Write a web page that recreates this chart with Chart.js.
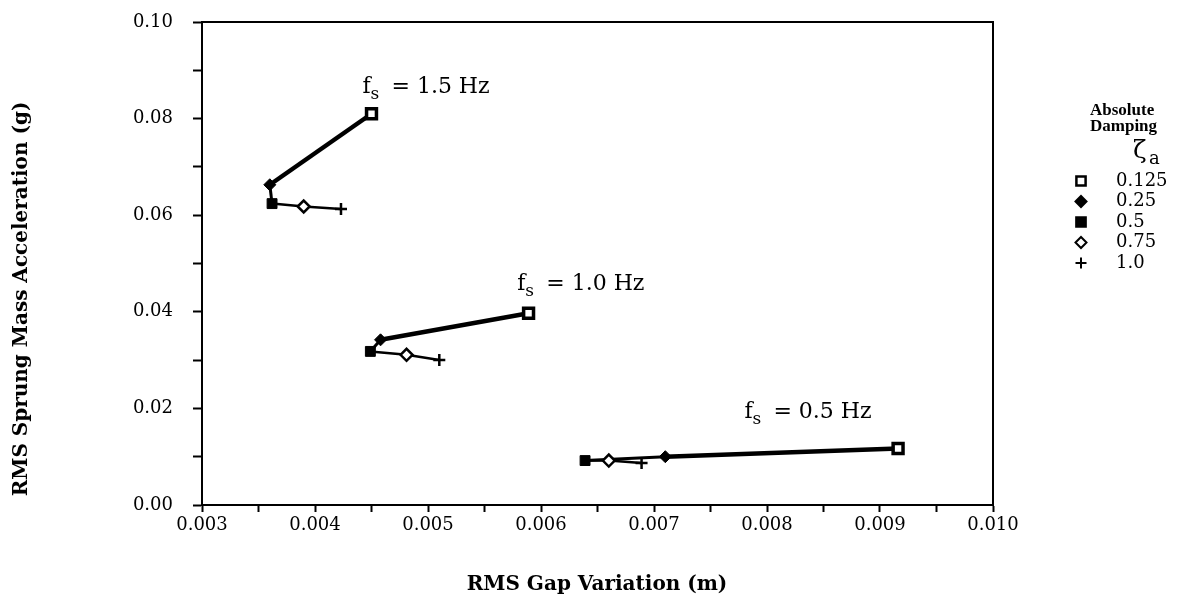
<!DOCTYPE html>
<html><head><meta charset="utf-8">
<script src="https://cdn.jsdelivr.net/npm/chart.js@4/dist/chart.umd.min.js"></script>
<style>html,body{margin:0;padding:0;background:#fff;}#wrap{width:1177px;height:604px;}</style>
</head><body><div id="wrap"><canvas id="c" width="1177" height="604"></canvas></div>
<script>
// ---- data ----
const dampingLabels = ['0.125', '0.25', '0.5', '0.75', '1.0'];
const frequencyLabels = ['1.5', '1.0', '0.5'];
// values ordered by damping (0.125, 0.25, 0.5, 0.75, 1.0)
const gap15Hz = [0.00450, 0.00360, 0.00362, 0.00390, 0.00423];
const acc15Hz = [0.0810, 0.0663, 0.0624, 0.0618, 0.0613];
const gap10Hz = [0.00589, 0.00458, 0.00449, 0.00481, 0.00510];
const acc10Hz = [0.0397, 0.0342, 0.0318, 0.0311, 0.0300];
const gap05Hz = [0.00916, 0.00710, 0.00639, 0.00660, 0.00689];
const acc05Hz = [0.0117, 0.0100, 0.0092, 0.0092, 0.0087];
const xTickLabels = ['0.003', '0.004', '0.005', '0.006', '0.007', '0.008', '0.009', '0.010'];
const yTickLabels = ['0.00', '0.02', '0.04', '0.06', '0.08', '0.10'];
const xAxisTitle = 'RMS Gap Variation (m)';
const yAxisTitle = 'RMS Sprung Mass Acceleration (g)';
const legendTitle = ['Absolute', 'Damping'];
// annotation anchors (data coordinates) for the f_s labels
const annotationX = [0.00442, 0.00579, 0.00780];
const annotationY = [0.0870, 0.0462, 0.0197];

// ---- styles ----
const gapSeries = [gap15Hz, gap10Hz, gap05Hz];
const accSeries = [acc15Hz, acc10Hz, acc05Hz];
const markerStyles = [
  {pointStyle: 'rect', radius: 7, bg: '#fff', bw: 3.5},
  {pointStyle: 'rectRot', radius: 6, bg: '#000', bw: 1},
  {pointStyle: 'rect', radius: 7, bg: '#000', bw: 1},
  {pointStyle: 'rectRot', radius: 6, bg: '#fff', bw: 2.5},
  {pointStyle: 'cross', radius: 6, bg: '#000', bw: 2.5}
];
const segmentWidths = [4.5, 3, 2.5, 2.5];
const serif = 'DejaVu Serif';

const lineDatasets = frequencyLabels.map((f, k) => ({
  label: 'fs ' + f,
  data: gapSeries[k].map((x, i) => ({x: x, y: accSeries[k][i]})),
  showLine: true,
  borderColor: '#000',
  borderWidth: 2.5,
  pointRadius: 0,
  segment: {borderWidth: c => segmentWidths[c.p0DataIndex]},
  order: 2
}));
const markerDatasets = dampingLabels.map((d, j) => ({
  label: d,
  data: gapSeries.map((g, k) => ({x: g[j], y: accSeries[k][j]})),
  showLine: false,
  pointStyle: markerStyles[j].pointStyle,
  pointRadius: markerStyles[j].radius,
  pointBackgroundColor: markerStyles[j].bg,
  pointBorderColor: '#000',
  pointBorderWidth: markerStyles[j].bw,
  order: 1
}));

const framePlugin = {
  id: 'frame',
  beforeDatasetsDraw(chart) {
    const a = chart.chartArea, ctx = chart.ctx;
    ctx.save();
    ctx.strokeStyle = '#000'; ctx.lineWidth = 2;
    ctx.beginPath();
    ctx.moveTo(a.left, a.top); ctx.lineTo(a.right, a.top); ctx.lineTo(a.right, a.bottom);
    ctx.stroke();
    ctx.restore();
  }
};

const textPlugin = {
  id: 'texts',
  afterDraw(chart) {
    const ctx = chart.ctx, xs = chart.scales.x, ys = chart.scales.y;
    ctx.save();
    ctx.fillStyle = '#000';
    // axis titles
    ctx.font = 'bold 20px ' + serif;
    ctx.textAlign = 'center'; ctx.textBaseline = 'middle';
    ctx.fillText(xAxisTitle, 597, 585);
    ctx.save();
    ctx.translate(22, 299); ctx.rotate(-Math.PI / 2);
    ctx.fillText(yAxisTitle, 0, 0);
    ctx.restore();
    // f_s annotations
    frequencyLabels.forEach((f, k) => {
      const px = xs.getPixelForValue(annotationX[k]);
      const py = ys.getPixelForValue(annotationY[k]);
      ctx.textAlign = 'left'; ctx.textBaseline = 'alphabetic';
      ctx.font = '22px ' + serif;
      ctx.fillText('f', px, py + 8);
      ctx.font = '17px ' + serif;
      ctx.fillText('s', px + 8, py + 14);
      ctx.font = '22px ' + serif;
      ctx.fillText('= ' + f + ' Hz', px + 29, py + 8);
    });
    // legend
    ctx.textAlign = 'left'; ctx.textBaseline = 'middle';
    ctx.font = 'bold 17px Liberation Serif';
    legendTitle.forEach((t, i) => ctx.fillText(t, 1090, 111 + i * 16));
    ctx.font = '25px ' + serif;
    ctx.fillText('\u03B6', 1133, 151);
    ctx.font = '18px ' + serif;
    ctx.fillText('a', 1149, 159);
    markerDatasets.forEach((ds, j) => {
      const y = 181 + j * 20.5;
      ctx.fillStyle = ds.pointBackgroundColor;
      ctx.strokeStyle = '#000';
      ctx.lineWidth = ds.pointStyle === 'rect' ? 2.5 : 2;
      Chart.helpers.drawPoint(ctx, {
        pointStyle: ds.pointStyle, radius: ds.pointStyle === 'rect' ? 6.5 : 5.5, rotation: 0,
        borderWidth: ctx.lineWidth
      }, 1081, y);
      ctx.fillStyle = '#000';
      ctx.font = '18px ' + serif;
      ctx.fillText(ds.label, 1116, y);
    });
    ctx.restore();
  }
};

Chart.defaults.font.family = serif;
Chart.defaults.color = '#000';

new Chart(document.getElementById('c'), {
  type: 'scatter',
  data: {datasets: [...markerDatasets, ...lineDatasets]},
  options: {
    responsive: false,
    animation: false,
    layout: {padding: {left: 0, right: 184, top: 22, bottom: 0}},
    plugins: {legend: {display: false}, tooltip: {enabled: false}},
    scales: {
      x: {
        type: 'linear', min: 0.003, max: 0.010,
        afterFit(s) { s.height = 99; s.paddingLeft = 0; s.paddingRight = 0; },
        ticks: {
          stepSize: 0.0005, autoSkip: false, maxRotation: 0, minRotation: 0,
          color: '#000', font: {family: serif, size: 18}, padding: 3,
          callback(v) {
            const i = Math.round((v - 0.003) * 2000);
            return i % 2 === 0 ? xTickLabels[i / 2] : '';
          }
        },
        grid: {drawOnChartArea: false, drawTicks: true, tickLength: 7, tickColor: '#000', tickWidth: 2},
        border: {display: true, color: '#000', width: 2}
      },
      y: {
        type: 'linear', min: 0, max: 0.1,
        afterFit(s) { s.width = 202; s.paddingTop = 0; s.paddingBottom = 0; },
        ticks: {
          stepSize: 0.01, autoSkip: false,
          color: '#000', font: {family: serif, size: 18}, padding: 20,
          callback(v) {
            const i = Math.round(v * 100);
            return i % 2 === 0 ? yTickLabels[i / 2] : '';
          }
        },
        grid: {drawOnChartArea: false, drawTicks: true, tickLength: 9, tickColor: '#000', tickWidth: 2},
        border: {display: true, color: '#000', width: 2}
      }
    }
  },
  plugins: [framePlugin, textPlugin]
});
</script>
</body></html>
